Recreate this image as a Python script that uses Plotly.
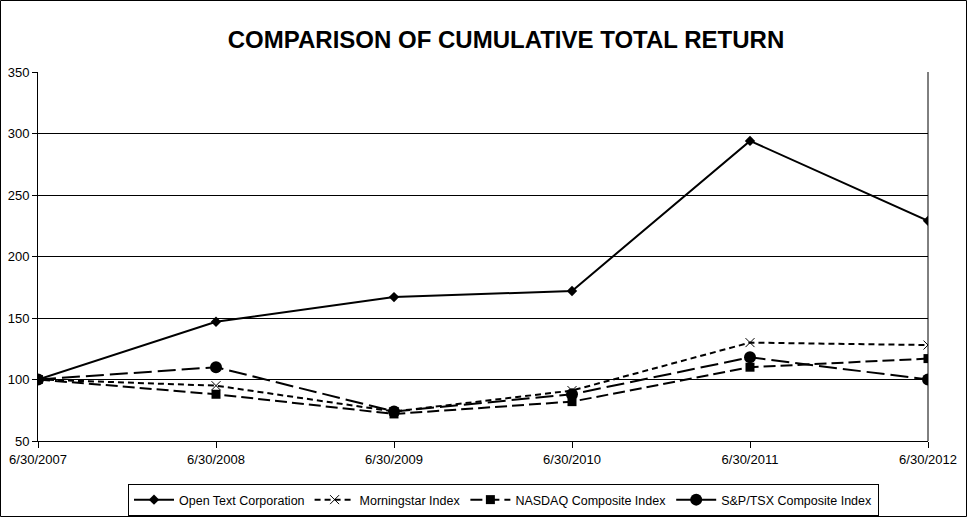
import plotly.graph_objects as go

dates = ["6/30/2007", "6/30/2008", "6/30/2009", "6/30/2010", "6/30/2011", "6/30/2012"]
open_text = [100, 147, 167, 172, 294, 229]
morningstar = [100, 95, 74, 91, 130, 128]
nasdaq = [100, 88, 72, 82, 110, 117]
sp_tsx = [100, 110, 74, 88, 118, 100]

W, H = 967, 517
L, R, T, B = 38, 39, 72, 76
pw, ph = W - L - R, H - T - B

xs = list(range(len(dates)))

fig = go.Figure()
fig.add_trace(go.Scatter(x=xs, y=open_text, name="Open Text Corporation", mode="lines+markers",
                         line=dict(color="black", width=2, dash="solid"),
                         marker=dict(symbol="diamond", size=8, color="black")))
fig.add_trace(go.Scatter(x=xs, y=morningstar, name="Morningstar Index", mode="lines+markers",
                         line=dict(color="black", width=2, dash="6px,4px"),
                         marker=dict(symbol="x-thin", size=9, color="black", line=dict(width=1, color="black"))))
fig.add_trace(go.Scatter(x=xs, y=nasdaq, name="NASDAQ Composite Index", mode="lines+markers",
                         line=dict(color="black", width=2, dash="12px,5px"),
                         marker=dict(symbol="square", size=9, color="black")))
fig.add_trace(go.Scatter(x=xs, y=sp_tsx, name="S&P/TSX Composite Index", mode="lines+markers",
                         line=dict(color="black", width=2, dash="18px,6px"),
                         marker=dict(symbol="circle", size=12, color="black")))

fig.update_layout(
    width=W, height=H, autosize=False,
    margin=dict(l=L, r=R, t=T, b=B, pad=0, autoexpand=False),
    paper_bgcolor="white", plot_bgcolor="white",
    font=dict(family="Liberation Sans, Arial, sans-serif", size=13, color="black"),
    title=dict(text="<b>COMPARISON OF CUMULATIVE TOTAL RETURN</b>", x=(506 - L) / pw, xref="paper",
               xanchor="center", y=1 - 40 / H, yanchor="middle",
               font=dict(size=24, color="black")),
    showlegend=True,
    legend=dict(orientation="h", xref="container", yref="container", x=503.5 / W, xanchor="center",
                y=1 - 484 / H, yanchor="top",
                bordercolor="black", borderwidth=1, font=dict(size=12.5), bgcolor="white",
                itemwidth=40, tracegroupgap=0),
    xaxis=dict(range=[0, 5], tickvals=xs, ticktext=dates, showgrid=False, zeroline=False,
               showline=True, linecolor="black", linewidth=1, ticks="outside", ticklen=6,
               tickcolor="black", tickfont=dict(size=13), automargin=False),
    yaxis=dict(range=[50, 350], dtick=50, showgrid=True, gridcolor="black", gridwidth=1,
               zeroline=False, showline=True, linecolor="black", linewidth=1, ticks="outside",
               ticklen=5, tickcolor="black", tickfont=dict(size=13), mirror=False, automargin=False),
    shapes=[dict(type="rect", xref="paper", yref="paper",
                 x0=-(L - 0.5) / pw, x1=(W - L - 0.5) / pw,
                 y0=-(B - 0.5) / ph, y1=(H - B - 0.5) / ph,
                 line=dict(color="black", width=1), layer="below")],
)
fig.add_shape(type="line", xref="paper", yref="paper", x0=1, x1=1, y0=0, y1=1,
              line=dict(color="black", width=1))

fig.write_html("out.html", config={"displayModeBar": False, "responsive": False},
               post_script="document.body.style.margin='0px';document.body.style.overflow='hidden';")
